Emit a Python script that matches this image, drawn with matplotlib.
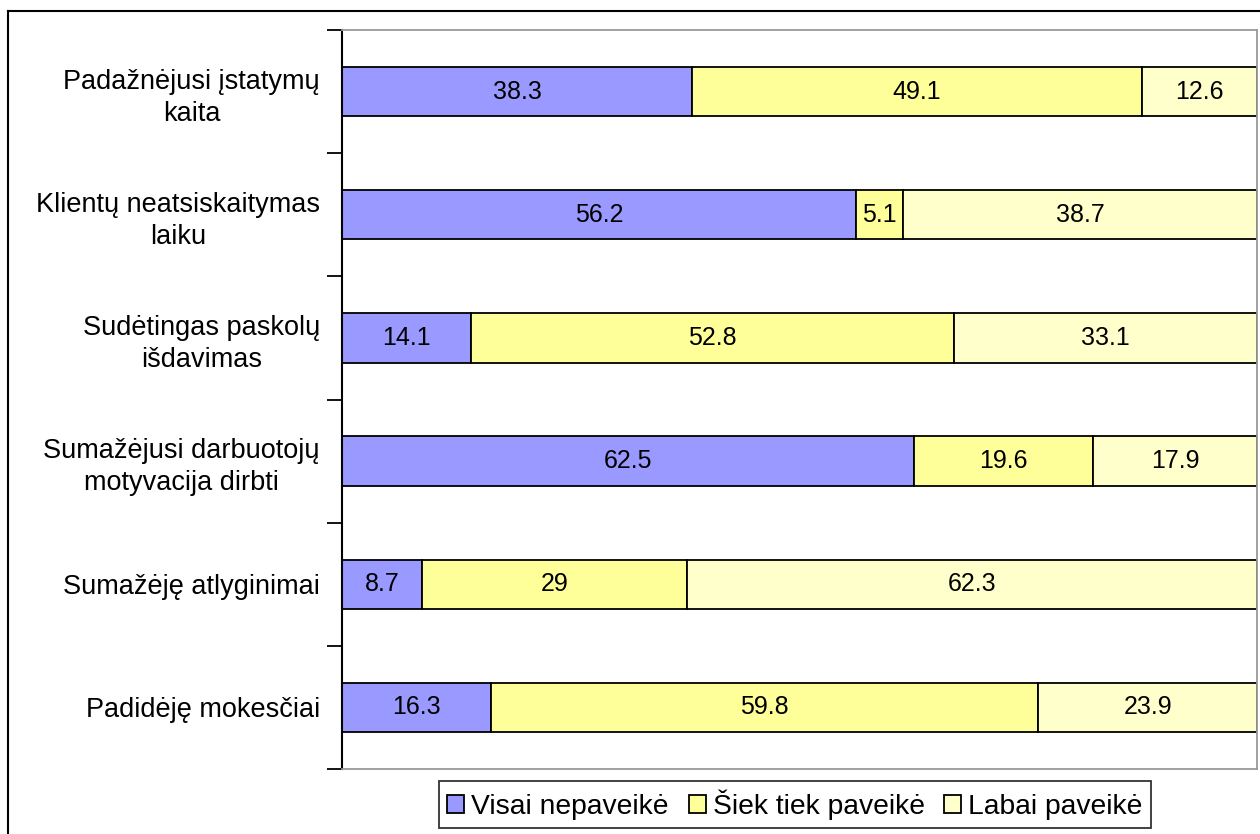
import matplotlib.pyplot as plt
import numpy as np

plt.rcParams['font.family'] = ['Liberation Sans', 'DejaVu Sans']

categories = [
    "Padažnėjusi įstatymų\nkaita",
    "Klientų neatsiskaitymas\nlaiku",
    "Sudėtingas paskolų\nišdavimas",
    "Sumažėjusi darbuotojų\nmotyvacija dirbti",
    "Sumažėję atlyginimai",
    "Padidėję mokesčiai",
]
visai = [38.3, 56.2, 14.1, 62.5, 8.7, 16.3]
siek = [49.1, 5.1, 52.8, 19.6, 29, 59.8]
labai = [12.6, 38.7, 33.1, 17.9, 62.3, 23.9]
series_names = ["Visai nepaveikė", "Šiek tiek paveikė", "Labai paveikė"]
colors = ["#9999FF", "#FFFF99", "#FFFFCC"]

fig = plt.figure(figsize=(12.6, 8.34), dpi=100)
ax = fig.add_axes([342 / 1260, 1 - 769 / 834, (1257 - 342) / 1260, (769 - 30) / 834])

y = np.arange(len(categories))
left = np.zeros(len(categories))
for vals, name, col in zip([visai, siek, labai], series_names, colors):
    bars = ax.barh(y, vals, left=left, height=0.4, color=col, edgecolor="black",
                   linewidth=1.3, label=name)
    for b, v in zip(bars, vals):
        ax.text(b.get_x() + b.get_width() / 2, b.get_y() + b.get_height() / 2,
                f"{v:g}", ha="center", va="center", fontsize=18)
    left += np.array(vals)

ax.set_xlim(0, 100)
ax.set_ylim(len(categories) - 0.5, -0.5)
ax.set_xticks([])
ax.set_yticks(y)
ax.set_yticklabels(categories, fontsize=19.5, multialignment="center",
                   linespacing=1.3)
ax.tick_params(axis="y", which="major", length=0, pad=16)
ax.set_yticks(np.arange(-0.5, len(categories)), minor=True)
ax.tick_params(axis="y", which="minor", length=11, width=1.3, direction="out")

ax.spines["left"].set_linewidth(1.5)
for s in ["top", "right", "bottom"]:
    ax.spines[s].set_color("#999999")
    ax.spines[s].set_linewidth(1.3)

leg = ax.legend(loc="upper center", bbox_to_anchor=(0.631, 1 - 781 / 834),
                bbox_transform=fig.transFigure, ncol=3, fontsize=20.3,
                frameon=True, fancybox=False, edgecolor="black",
                handlelength=0.6, handleheight=0.6, handletextpad=0.25,
                columnspacing=0.7, borderpad=0.3, borderaxespad=0)
leg.get_frame().set_linewidth(1.3)

# outer chart border
fig.add_artist(plt.Line2D([8 / 1260, 8 / 1260], [0, 1 - 11 / 834],
                          transform=fig.transFigure, color="black", lw=1.5))
fig.add_artist(plt.Line2D([8 / 1260, 1], [1 - 11 / 834, 1 - 11 / 834],
                          transform=fig.transFigure, color="black", lw=1.5))

fig.savefig("out.png", dpi=100)
